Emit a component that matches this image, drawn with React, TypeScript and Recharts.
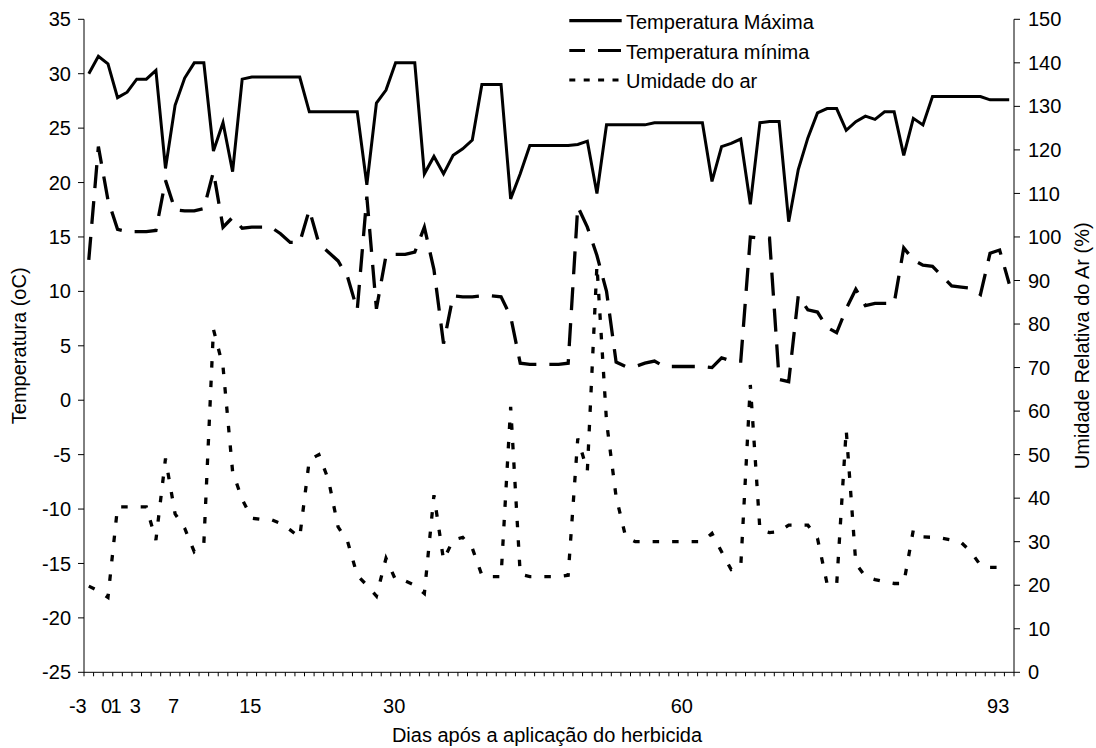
import React from 'react';
import { LineChart, Line, XAxis, YAxis, Legend } from 'recharts';

const FONT = '"Liberation Sans", Arial, Helvetica, sans-serif';

// Categories: days after herbicide application (one category per day)
const days = [
  -3, -2, -1, 0, 1, 2, 3, 4, 5, 6,
  7, 8, 9, 10, 11, 12, 13, 14, 15, 16,
  17, 18, 19, 20, 21, 22, 23, 24, 25, 26,
  27, 28, 29, 30, 31, 32, 33, 34, 35, 36,
  37, 38, 39, 40, 41, 42, 43, 44, 45, 46,
  47, 48, 49, 50, 51, 52, 53, 54, 55, 56,
  57, 58, 59, 60, 61, 62, 63, 64, 65, 66,
  67, 68, 69, 70, 71, 72, 73, 74, 75, 76,
  77, 78, 79, 80, 81, 82, 83, 84, 85, 86,
  87, 88, 89, 90, 91, 92, 93,
];

const tempMax = [
  30.0, 31.6, 30.9, 27.8, 28.3, 29.5, 29.5, 30.3, 21.3, 27.1,
  29.6, 31.0, 31.0, 22.9, 25.5, 21.0, 29.5, 29.7, 29.7, 29.7,
  29.7, 29.7, 29.7, 26.5, 26.5, 26.5, 26.5, 26.5, 26.5, 19.8,
  27.3, 28.5, 31.0, 31.0, 31.0, 20.8, 22.4, 20.8, 22.5, 23.1,
  23.9, 29.0, 29.0, 29.0, 18.5, 20.8, 23.4, 23.4, 23.4, 23.4,
  23.4, 23.5, 23.8, 19.0, 25.3, 25.3, 25.3, 25.3, 25.3, 25.5,
  25.5, 25.5, 25.5, 25.5, 25.5, 20.1, 23.3, 23.6, 24.0, 18.0,
  25.5, 25.6, 25.6, 16.4, 21.2, 24.1, 26.4, 26.8, 26.8, 24.8,
  25.6, 26.1, 25.8, 26.5, 26.5, 22.5, 25.9, 25.3, 27.9, 27.9,
  27.9, 27.9, 27.9, 27.9, 27.6, 27.6, 27.6,
];

const tempMin = [
  12.9, 23.3, 18.4, 15.7, 15.5, 15.5, 15.5, 15.6, 20.2, 17.5,
  17.4, 17.4, 17.6, 21.0, 15.9, 16.8, 15.8, 15.9, 15.9, 15.9,
  15.3, 14.5, 14.5, 17.5, 14.4, 13.6, 12.8, 11.3, 8.3, 18.7,
  8.4, 13.3, 13.4, 13.4, 13.6, 15.9, 12.0, 5.2, 9.6, 9.5,
  9.5, 9.6, 9.6, 9.5, 7.7, 3.4, 3.3, 3.3, 3.3, 3.3,
  3.4, 17.8, 15.9, 13.3, 10.0, 3.5, 3.1, 3.1, 3.4, 3.6,
  3.1, 3.1, 3.1, 3.1, 3.1, 3.0, 3.9, 3.6, 3.6, 15.0,
  14.9, 14.9, 1.9, 1.7, 9.6, 8.3, 8.1, 6.7, 6.2, 8.4,
  10.2, 8.7, 8.9, 8.9, 8.9, 14.0, 12.9, 12.4, 12.3, 11.4,
  10.5, 10.4, 10.3, 9.7, 13.5, 13.8, 10.7,
];

const humidity = [
  19.8, 18.7, 17.2, 38.0, 38.0, 38.0, 38.0, 30.4, 49.1, 36.4,
  33.1, 27.7, 29.6, 78.8, 70.2, 46.1, 39.7, 35.4, 35.1, 35.1,
  34.2, 32.7, 31.0, 48.8, 50.0, 44.2, 33.4, 30.0, 22.3, 20.0,
  17.5, 26.2, 21.2, 21.0, 20.0, 18.1, 40.7, 25.8, 30.4, 31.0,
  28.5, 22.3, 22.0, 22.0, 61.0, 22.5, 22.0, 22.0, 22.0, 22.0,
  22.3, 53.7, 46.3, 93.5, 57.6, 40.3, 31.1, 30.0, 30.0, 30.0,
  30.0, 30.0, 30.0, 30.0, 30.0, 31.9, 27.7, 23.6, 24.3, 66.0,
  32.7, 32.1, 32.3, 33.8, 33.8, 33.8, 30.8, 20.4, 20.0, 55.7,
  25.0, 22.0, 21.3, 20.8, 20.4, 20.4, 32.7, 31.1, 31.0, 30.8,
  30.4, 29.8, 27.7, 24.6, 24.1, 24.1, 24.1,
];

const xLabelDays = [-3, 0, 1, 3, 7, 15, 30, 60, 93];
const leftTicks = [-25, -20, -15, -10, -5, 0, 5, 10, 15, 20, 25, 30, 35];
const rightTicks = [0, 10, 20, 30, 40, 50, 60, 70, 80, 90, 100, 110, 120, 130, 140, 150];
const seriesNames = ['Temperatura Máxima', 'Temperatura mínima', 'Umidade do ar'];

const xTitle = 'Dias após a aplicação do herbicida';
const leftTitle = 'Temperatura (oC)';
const rightTitle = 'Umidade Relativa do Ar (%)';

const data = days.map((d, i) => ({
  day: d,
  tmax: tempMax[i],
  tmin: tempMin[i],
  hum: humidity[i],
}));

// tick marks sit between categories; labels at selected days
const boundaryTicks = [...days.map((d) => d - 0.5), days[days.length - 1] + 0.5];
const xTicks = [...boundaryTicks, ...xLabelDays];

const DASH_MIN = '23 13';
const DOT_HUM = '6.5 13';

const XTick = (props: any) => {
  const { x, y, payload } = props;
  const v = payload.value;
  if (Number.isInteger(v)) {
    return (
      <text x={x - 11} y={y + 41} textAnchor="middle" fontSize={20} fill="#000" fontFamily={FONT}>
        {String(v)}
      </text>
    );
  }
  return <line x1={x} x2={x} y1={y} y2={y + 4} stroke="#000" strokeWidth={1} />;
};

const XTitle = (props: any) => {
  const vb = props.viewBox || { x: 84, y: 672.3, width: 930, height: 75.7 };
  return (
    <text x={vb.x + vb.width / 2 - 2} y={vb.y + 70} textAnchor="middle" fontSize={20} fill="#000" fontFamily={FONT}>
      {xTitle}
    </text>
  );
};

const LeftTitle = (props: any) => {
  const vb = props.viewBox || { x: 0, y: 19.3, width: 84, height: 653 };
  const cx = vb.x + 19;
  const cy = vb.y + vb.height / 2;
  return (
    <text
      x={cx}
      y={cy}
      transform={`rotate(-90 ${cx} ${cy})`}
      textAnchor="middle"
      dominantBaseline="central"
      fontSize={20}
      fill="#000"
      fontFamily={FONT}
    >
      {leftTitle}
    </text>
  );
};

const RightTitle = (props: any) => {
  const vb = props.viewBox || { x: 1014, y: 19.3, width: 82, height: 653 };
  const cx = vb.x + 68;
  const cy = vb.y + vb.height / 2;
  return (
    <text
      x={cx}
      y={cy}
      transform={`rotate(-90 ${cx} ${cy})`}
      textAnchor="middle"
      dominantBaseline="central"
      fontSize={20}
      fill="#000"
      fontFamily={FONT}
    >
      {rightTitle}
    </text>
  );
};

const LegendContent = () => {
  const rows = [
    { dash: undefined as string | undefined, offset: 0, lineY: 20.7, textY: 29.3 },
    { dash: DASH_MIN, offset: 7.3, lineY: 50.5, textY: 58.8 },
    { dash: '6 8.4', offset: 0, lineY: 80, textY: 88.3 },
  ];
  return (
    <svg width={300} height={100} style={{ display: 'block' }}>
      {rows.map((r, i) => (
        <g key={i}>
          <line
            x1={9.3}
            x2={61.7}
            y1={r.lineY}
            y2={r.lineY}
            stroke="#000"
            strokeWidth={3.2}
            strokeDasharray={r.dash}
            strokeDashoffset={r.offset}
          />
          <text x={66} y={r.textY} fontSize={20} fill="#000" fontFamily={FONT}>
            {seriesNames[i]}
          </text>
        </g>
      ))}
    </svg>
  );
};

export default function App() {
  return (
    <div
      style={{
        position: 'absolute',
        left: 0,
        top: 0,
        width: 1096,
        height: 748,
        background: '#fff',
        fontFamily: FONT,
      }}
    >
      <LineChart width={1096} height={748} data={data} margin={{ top: 19.3, right: 0, bottom: 0, left: 0 }}>
        <XAxis
          dataKey="day"
          type="number"
          domain={[-3.5, 93.5]}
          ticks={xTicks}
          interval={0}
          tickSize={0}
          tickMargin={0}
          tickLine={false}
          tick={<XTick />}
          axisLine={{ stroke: '#000', strokeWidth: 1 }}
          height={75.7}
          label={<XTitle />}
        />
        <YAxis
          yAxisId="left"
          domain={[-25, 35]}
          ticks={leftTicks}
          interval={0}
          width={84}
          tickSize={6}
          tickMargin={7}
          tick={{ fill: '#000', fontSize: 20, fontFamily: FONT }}
          tickLine={{ stroke: '#000' }}
          axisLine={{ stroke: '#000', strokeWidth: 1 }}
          label={<LeftTitle />}
        />
        <YAxis
          yAxisId="right"
          orientation="right"
          domain={[0, 150]}
          ticks={rightTicks}
          interval={0}
          width={82}
          tickSize={6}
          tickMargin={8}
          tick={{ fill: '#000', fontSize: 20, fontFamily: FONT }}
          tickLine={{ stroke: '#000' }}
          axisLine={{ stroke: '#000', strokeWidth: 1 }}
          label={<RightTitle />}
        />
        <Legend
          layout="vertical"
          align="center"
          verticalAlign="middle"
          content={<LegendContent />}
          wrapperStyle={{ position: 'absolute', left: 560, top: 0, width: 300, height: 100 }}
        />
        <Line
          yAxisId="right"
          type="linear"
          dataKey="hum"
          name={seriesNames[2]}
          stroke="#000"
          strokeWidth={3.3}
          strokeDasharray={DOT_HUM}
          dot={false}
          isAnimationActive={false}
        />
        <Line
          yAxisId="left"
          type="linear"
          dataKey="tmin"
          name={seriesNames[1]}
          stroke="#000"
          strokeWidth={3.3}
          strokeDasharray={DASH_MIN}
          dot={false}
          isAnimationActive={false}
        />
        <Line
          yAxisId="left"
          type="linear"
          dataKey="tmax"
          name={seriesNames[0]}
          stroke="#000"
          strokeWidth={3}
          dot={false}
          isAnimationActive={false}
        />
      </LineChart>
    </div>
  );
}
